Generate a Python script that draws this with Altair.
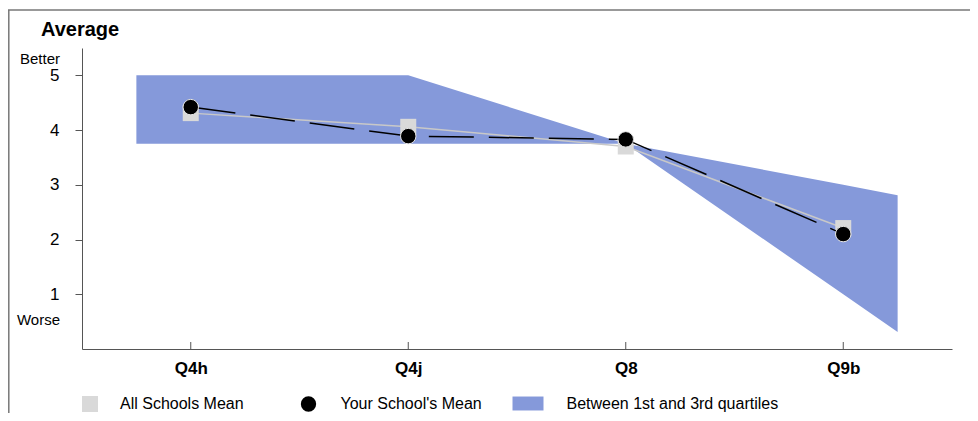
import altair as alt
import pandas as pd

# ---- data ----
categories = ["Q4h", "Q4j", "Q8", "Q9b"]
positions = [1, 2, 3, 4]
all_schools_mean = [4.31, 4.06, 3.70, 2.21]
your_school_mean = [4.42, 3.89, 3.83, 2.10]
band_positions = [0.75, 1, 2, 3, 4, 4.25]
band_lower = [3.75, 3.75, 3.75, 3.75, 1.00, 0.31]
band_upper = [5.00, 5.00, 5.00, 3.75, 3.00, 2.81]
y_ticks = [1, 2, 3, 4, 5]
end_labels = ["Better", "Worse"]
end_label_y = [5.29, 0.53]
series_names = ["All Schools Mean", "Your School's Mean", "Between 1st and 3rd quartiles"]

W, H = 870, 301
FONT = "Liberation Sans"
AXIS_COLOR = "#555555"
BAND_COLOR = "#8599da"
SQUARE_COLOR = "#d9d9d9"

means = pd.DataFrame({
    "pos": positions,
    "cat": categories,
    "all": all_schools_mean,
    "your": your_school_mean,
    "s_all": [series_names[0]] * len(positions),
    "s_your": [series_names[1]] * len(positions),
})
band = pd.DataFrame({
    "pos": band_positions,
    "lo": band_lower,
    "hi": band_upper,
    "s": [series_names[2]] * len(band_positions),
})
ends = pd.DataFrame({"t": end_labels, "v": end_label_y})
one = pd.DataFrame({"t": ["Average"]})

label_expr = "[" + ",".join(f"'{c}'" for c in categories) + "][datum.value - 1]"

x_enc = alt.X(
    "pos:Q",
    scale=alt.Scale(domain=[0.5, 4.5], nice=False, zero=False),
    axis=alt.Axis(values=positions, labelExpr=label_expr, title=None, ticks=False,
                  labelFontSize=17, labelFontWeight="bold", labelPadding=11,
                  domainColor=AXIS_COLOR, labelColor="black", grid=False, labelFont=FONT),
)
y_scale = alt.Scale(domain=[0, 5.5], nice=False, zero=False)
y_axis = alt.Axis(values=y_ticks, format="d", title=None, tickSize=7, tickColor=AXIS_COLOR,
                  domainColor=AXIS_COLOR, labelFontSize=17, labelPadding=16, grid=False,
                  labelColor="black", labelFont=FONT)


def legend(x, y, symbol, size, offset):
    return alt.Legend(orient="none", legendX=x, legendY=y, title=None, symbolType=symbol,
                      symbolSize=size, labelOffset=offset, labelFontSize=16, labelFont=FONT,
                      labelLimit=400, padding=0, symbolStrokeWidth=0, labelColor="black")


band_layer = alt.Chart(band).mark_area(opacity=1).encode(
    x=x_enc,
    y=alt.Y("lo:Q", scale=y_scale, axis=y_axis),
    y2="hi:Q",
    color=alt.Color("s:N", scale=alt.Scale(domain=[series_names[2]], range=[BAND_COLOR]),
                    legend=legend(430.5, 340, "M-1,-0.45H1V0.45H-1Z", 961, 23)),
)

gray_line = alt.Chart(means).mark_line(color="#c8c8c8", strokeWidth=1.5).encode(
    x="pos:Q", y=alt.Y("all:Q", scale=y_scale))

squares = alt.Chart(means).mark_square(size=256, opacity=1, filled=True).encode(
    x="pos:Q", y=alt.Y("all:Q", scale=y_scale),
    color=alt.Color("s_all:N", scale=alt.Scale(domain=[series_names[0]], range=[SQUARE_COLOR]),
                    legend=legend(0, 348, "square", 256, 22)),
)

black_line = alt.Chart(means).mark_line(color="black", strokeWidth=1.5, strokeDash=[45, 15]).encode(
    x="pos:Q", y=alt.Y("your:Q", scale=y_scale))

circles = alt.Chart(means).mark_circle(size=240, opacity=1, stroke="#e6e6e6", strokeWidth=1).encode(
    x="pos:Q", y=alt.Y("your:Q", scale=y_scale),
    color=alt.Color("s_your:N", scale=alt.Scale(domain=[series_names[1]], range=["black"]),
                    legend=legend(218.5, 348, "circle", 235, 24)),
)

x_ticks = alt.Chart(means).mark_rule(color=AXIS_COLOR, strokeWidth=1).encode(
    x="pos:Q", y=alt.value(H - 7), y2=alt.value(H))

end_text = alt.Chart(ends).mark_text(align="right", baseline="middle", fontSize=15, font=FONT,
                                     color="black").encode(
    x=alt.value(-22), y=alt.Y("v:Q", scale=y_scale), text="t:N")

title_text = alt.Chart(one).mark_text(align="left", baseline="alphabetic", fontSize=20,
                                      fontWeight="bold", font=FONT, color="black").encode(
    x=alt.value(-41), y=alt.value(-12), text="t:N")

frame_top = alt.Chart(one).mark_rule(color="#777777", strokeWidth=1.5).encode(
    x=alt.value(-74), x2=alt.value(W + 18), y=alt.value(-38))
frame_left = alt.Chart(one).mark_rule(color="#777777", strokeWidth=1.5).encode(
    x=alt.value(-73.2), y=alt.value(-38), y2=alt.value(H + 64))

chart = alt.layer(
    band_layer, gray_line, squares, black_line, circles, x_ticks, end_text, title_text,
    frame_top, frame_left,
).resolve_scale(color="independent").properties(
    width=W, height=H,
    autosize=alt.AutoSizeParams(type="none"),
    padding={"left": 74, "top": 40, "right": 18, "bottom": 64},
).configure_view(stroke=None)

chart.save("out.html", embed_options={"renderer": "svg", "actions": False})
